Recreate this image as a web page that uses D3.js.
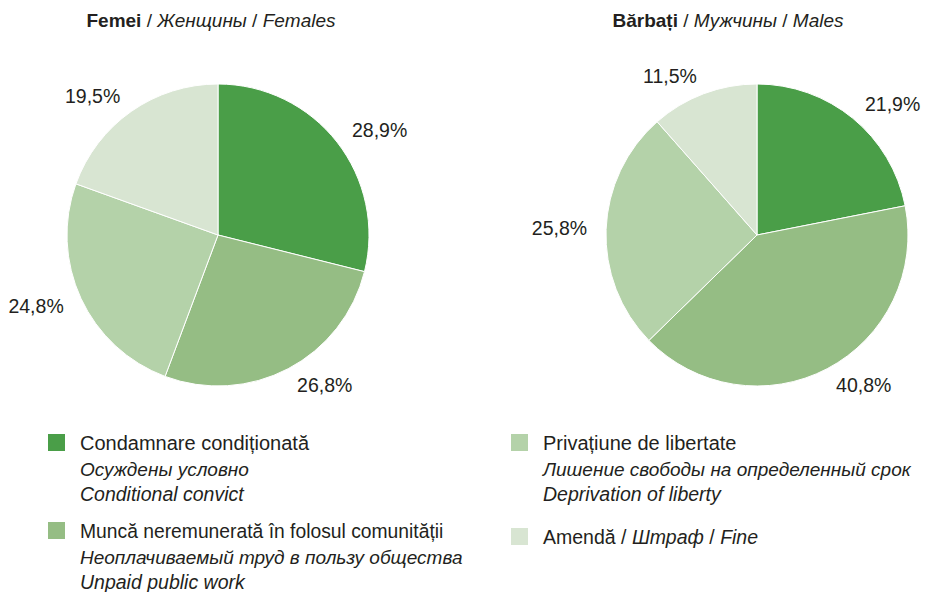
<!DOCTYPE html>
<html><head><meta charset="utf-8">
<script src="https://cdn.jsdelivr.net/npm/d3@7"></script>
<style>body{margin:0;background:#fff;} text{font-family:"Liberation Sans",Arial,sans-serif;fill:#231f20;}</style>
</head><body>
<svg id="c" width="926" height="592"></svg>
<script>
const categories = ["Condamnare condiționată","Muncă neremunerată în folosul comunității","Privațiune de libertate","Amendă"];
const femaleValues = [28.9, 26.8, 24.8, 19.5];
const maleValues = [21.9, 40.8, 25.8, 11.5];
const valueLabelsF = ["28,9%","26,8%","24,8%","19,5%"];
const valueLabelsM = ["21,9%","40,8%","25,8%","11,5%"];
const colors = ["#4a9e48","#95bd84","#b4d2a9","#d8e5d2"];

const svg = d3.select("#c");
const color = d3.scaleOrdinal().domain(categories).range(colors);
const pie = d3.pie().sort(null).value(d=>d.v);
const R = 151;
const arc = d3.arc().innerRadius(0).outerRadius(R);
const labelArc = d3.arc().innerRadius(170).outerRadius(170);

function drawPie(cx, cy, vals, labels, titleParts, tx){
  const data = categories.map((c,i)=>({c, v: vals[i], l: labels[i]}));
  const g = svg.append("g").attr("transform",`translate(${cx},${cy})`);
  const arcs = pie(data);
  g.selectAll("path").data(arcs).enter().append("path")
    .attr("d", arc).attr("fill", d=>color(d.data.c))
    .attr("stroke","#fff").attr("stroke-width",1);
  g.selectAll("text.lbl").data(arcs).enter().append("text").attr("class","lbl")
    .attr("transform", d=>`translate(${labelArc.centroid(d)})`)
    .attr("text-anchor", d=> ((d.startAngle+d.endAngle)/2 < Math.PI) ? "start" : "end")
    .attr("dy","0.35em")
    .style("font-size","19.5px").text(d=>d.data.l);
  const t = svg.append("text").attr("x", tx).attr("y", 27).attr("text-anchor","middle").style("font-size","19px");
  t.append("tspan").style("font-weight","bold").text(titleParts[0]);
  t.append("tspan").text(" / ");
  t.append("tspan").style("font-style","italic").text(titleParts[1]);
  t.append("tspan").text(" / ");
  t.append("tspan").style("font-style","italic").text(titleParts[2]);
}
drawPie(218, 235, femaleValues, valueLabelsF, ["Femei","Женщины","Females"], 211);
drawPie(757, 235, maleValues, valueLabelsM, ["Bărbați","Мужчины","Males"], 728);

// legend: [text, italic, font size]
const legendItems = [
  {c: categories[0], x: 48, y: 434, lines: [["Condamnare condiționată", false, 20], ["Осуждены условно", true, 19], ["Conditional convict", true, 19.5]]},
  {c: categories[1], x: 48, y: 522, lines: [["Muncă neremunerată în folosul comunității", false, 19.3], ["Неоплачиваемый труд в пользу общества", true, 19], ["Unpaid public work", true, 19.5]]},
  {c: categories[2], x: 511, y: 434, lines: [["Privațiune de libertate", false, 20], ["Лишение свободы на определенный срок", true, 19], ["Deprivation of liberty", true, 19.5]]},
  {c: categories[3], x: 511, y: 528, lines: null}
];
legendItems.forEach(it=>{
  const g = svg.append("g").attr("transform",`translate(${it.x},${it.y})`);
  g.append("rect").attr("width",17).attr("height",17).attr("fill",color(it.c));
  if(it.lines){
    it.lines.forEach((ln,i)=>{
      g.append("text").attr("x",32).attr("y",16 + i*25.5).style("font-size",ln[2]+"px")
        .style("font-style", ln[1]?"italic":"normal").text(ln[0]);
    });
  } else {
    const t = g.append("text").attr("x",32).attr("y",16).style("font-size","19.5px");
    t.append("tspan").text("Amendă / ");
    t.append("tspan").style("font-style","italic").text("Штраф");
    t.append("tspan").text(" / ");
    t.append("tspan").style("font-style","italic").text("Fine");
  }
});
</script>
</body></html>
